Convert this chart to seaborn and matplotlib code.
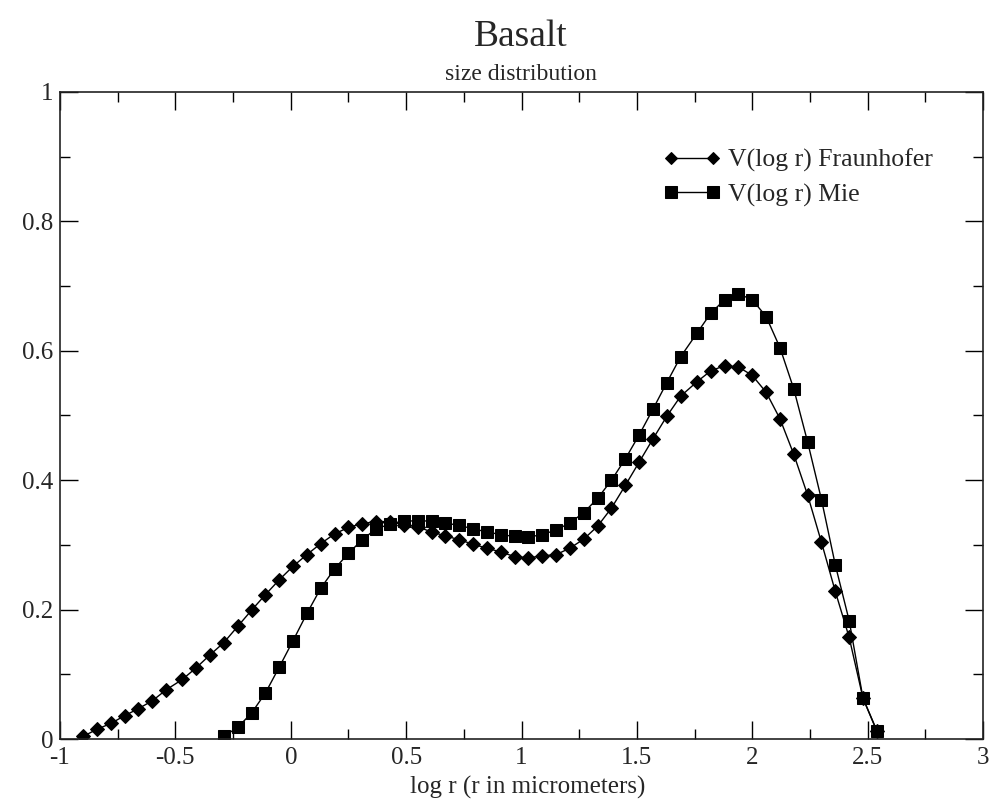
import matplotlib
matplotlib.use("Agg")
import matplotlib.pyplot as plt
from matplotlib.ticker import MultipleLocator
import pandas as pd
import seaborn as sns

# log10 of particle radius (micrometers)
log_r = [-0.90, -0.84, -0.78, -0.72, -0.66, -0.60, -0.54, -0.47, -0.41, -0.35,
         -0.29, -0.23, -0.17, -0.11, -0.05, 0.01, 0.07, 0.13, 0.19, 0.25,
         0.31, 0.37, 0.43, 0.49, 0.55, 0.61, 0.67, 0.73, 0.79, 0.85,
         0.91, 0.97, 1.03, 1.09, 1.15, 1.21, 1.27, 1.33, 1.39, 1.45,
         1.51, 1.57, 1.63, 1.69, 1.76, 1.82, 1.88, 1.94, 2.00, 2.06,
         2.12, 2.18, 2.24, 2.30, 2.36, 2.42, 2.48, 2.54]

# volume distribution, Fraunhofer approximation
v_fraunhofer = [0.004, 0.015, 0.024, 0.036, 0.047, 0.059, 0.076, 0.092, 0.110, 0.130,
                0.149, 0.174, 0.199, 0.223, 0.246, 0.267, 0.285, 0.302, 0.317, 0.327,
                0.333, 0.336, 0.336, 0.331, 0.328, 0.320, 0.314, 0.308, 0.301, 0.295,
                0.289, 0.282, 0.280, 0.283, 0.285, 0.295, 0.309, 0.329, 0.357, 0.392,
                0.428, 0.464, 0.499, 0.530, 0.552, 0.569, 0.577, 0.575, 0.562, 0.536,
                0.495, 0.440, 0.377, 0.304, 0.228, 0.157, 0.063, 0.013]

# volume distribution, Mie theory (starts at the 11th size class)
mie_start = 10
v_mie = [0.004, 0.018, 0.040, 0.071, 0.111, 0.152, 0.194, 0.233, 0.263, 0.287,
         0.308, 0.325, 0.332, 0.337, 0.337, 0.337, 0.334, 0.330, 0.325, 0.320,
         0.316, 0.313, 0.312, 0.316, 0.323, 0.334, 0.350, 0.372, 0.400, 0.433,
         0.470, 0.510, 0.551, 0.591, 0.627, 0.658, 0.679, 0.688, 0.679, 0.653,
         0.605, 0.541, 0.459, 0.370, 0.269, 0.183, 0.063, 0.012]

labels = ["V(log r) Fraunhofer", "V(log r) Mie"]
x_ticks = [-1, -0.5, 0, 0.5, 1, 1.5, 2, 2.5, 3]
x_tick_labels = ["-1", "-0.5", "0", "0.5", "1", "1.5", "2", "2.5", "3"]
y_ticks = [0, 0.2, 0.4, 0.6, 0.8, 1]
y_tick_labels = ["0", "0.2", "0.4", "0.6", "0.8", "1"]

df_f = pd.DataFrame({"log_r": log_r, "V": v_fraunhofer})
df_m = pd.DataFrame({"log_r": log_r[mie_start:], "V": v_mie})

sns.set_theme(style="white")
plt.rcParams["font.family"] = ["Liberation Serif", "DejaVu Serif"]

fig = plt.figure(figsize=(9.99, 7.99), dpi=100)
W, H = 999, 799
ax = fig.add_axes([60 / W, 1 - 739 / H, (983 - 60) / W, (739 - 92) / H])

sns.lineplot(data=df_f, x="log_r", y="V", ax=ax, color="black", lw=1.0,
             marker="D", markersize=6.8, markeredgecolor="black",
             markerfacecolor="black", label=labels[0], sort=False)
sns.lineplot(data=df_m, x="log_r", y="V", ax=ax, color="black", lw=1.0,
             marker="s", markersize=9, markeredgecolor="black",
             markerfacecolor="black", label=labels[1], sort=False)

ax.set_xlim(-1, 3)
ax.set_ylim(0, 1)
ax.set_xticks(x_ticks)
ax.set_xticklabels(x_tick_labels)
ax.set_yticks(y_ticks)
ax.set_yticklabels(y_tick_labels)
ax.xaxis.set_minor_locator(MultipleLocator(0.25))
ax.yaxis.set_minor_locator(MultipleLocator(0.1))

ax.tick_params(which="both", direction="in", top=True, right=True,
               bottom=True, left=True, color="black", width=1.0)
ax.tick_params(which="major", length=13, labelsize=18, pad=5)
ax.tick_params(which="minor", length=7)
ax.tick_params(axis="x", which="major", pad=5.5)

for sp in ax.spines.values():
    sp.set_color("#222222")
    sp.set_linewidth(1.2)

ax.set_xlabel("log r (r in micrometers)", fontsize=18, va="center")
ax.xaxis.set_label_coords((528 - 60) / 923, (739 - 787) / 647)
ax.set_ylabel("")

leg = ax.legend(loc="upper left", bbox_to_anchor=(663 / W, 1 - 149 / H),
                bbox_transform=fig.transFigure, frameon=False, numpoints=2,
                fontsize=18.5, handlelength=2.25, handletextpad=0.28,
                labelspacing=0.42, borderpad=0, borderaxespad=0)
for h in leg.legend_handles:
    h.set_markersize(h.get_markersize() * 0.9)

fig.text(521 / W, 1 - 37 / H, "Basalt", ha="center", va="center", fontsize=27)
fig.text(521 / W, 1 - 74 / H, "size distribution", ha="center", va="center",
         fontsize=17)

fig.savefig("out.png", dpi=100)
